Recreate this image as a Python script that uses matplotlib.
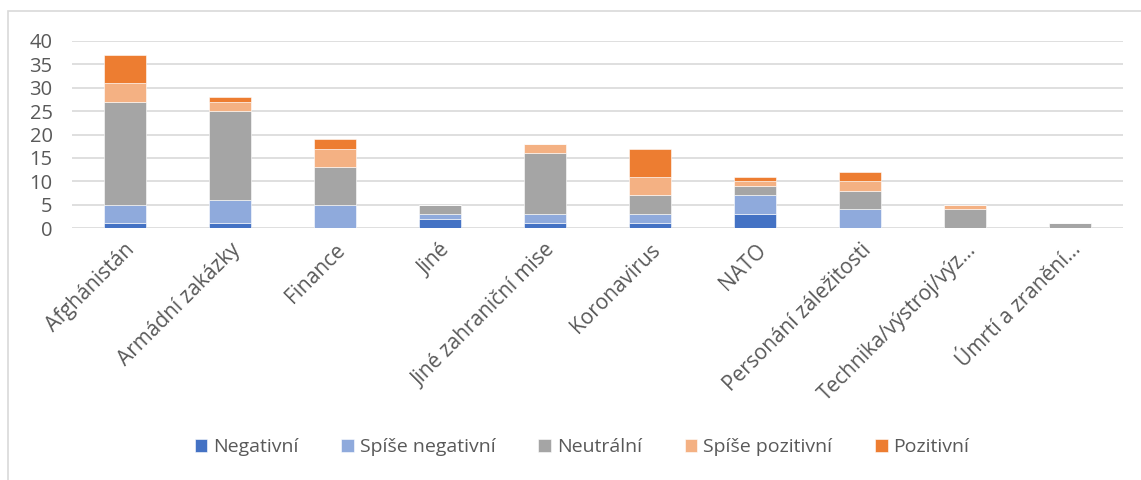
import matplotlib.pyplot as plt
from matplotlib.patches import Rectangle

categories = ["Afghánistán", "Armádní zakázky", "Finance", "Jiné", "Jiné zahraniční mise",
              "Koronavirus", "NATO", "Personání záležitosti", "Technika/výstroj/výz…",
              "Úmrtí a zranění…"]
negativni = [1, 1, 0, 2, 1, 1, 3, 0, 0, 0]
spise_negativni = [4, 5, 5, 1, 2, 2, 4, 4, 0, 0]
neutralni = [22, 19, 8, 2, 13, 4, 2, 4, 4, 1]
spise_pozitivni = [4, 2, 4, 0, 2, 4, 1, 2, 1, 0]
pozitivni = [6, 1, 2, 0, 0, 6, 1, 2, 0, 0]

series = [("Negativní", negativni, "#4472C4"),
          ("Spíše negativní", spise_negativni, "#8FAADC"),
          ("Neutrální", neutralni, "#A5A5A5"),
          ("Spíše pozitivní", spise_pozitivni, "#F4B183"),
          ("Pozitivní", pozitivni, "#ED7D31")]

plt.rcParams['font.family'] = ['Open Sans', 'DejaVu Sans']
txt = "#595959"

fig = plt.figure(figsize=(11.41, 4.8), dpi=100)
ax = fig.add_axes([72/1141, 1-228/480, (1123-72)/1141, (228-41)/480])

x = list(range(len(categories)))
bottom = [0]*len(categories)
for name, vals, col in series:
    ax.bar(x, vals, 0.4, bottom=bottom, color=col, label=name,
           edgecolor='white', linewidth=0.4, zorder=3)
    bottom = [b + v for b, v in zip(bottom, vals)]

ax.set_xlim(-0.5, len(categories)-0.5)
ax.set_ylim(0, 40)
ax.set_yticks(range(0, 41, 5))
ax.yaxis.grid(True, color='#D9D9D9', linewidth=1.2, zorder=0)
for s in ax.spines.values():
    s.set_visible(False)
ax.tick_params(axis='both', length=0, labelsize=14.5, colors=txt)
ax.tick_params(axis='y', pad=14)
ax.tick_params(axis='x', labelsize=15)
ax.set_xticks(x)
ax.set_xticklabels(categories, rotation=45, ha='right', rotation_mode='anchor')
for lab in ax.get_xticklabels():
    lab.set_y(-0.035)

ax.legend(loc='center', bbox_to_anchor=(582/1141, 1-447/480), bbox_transform=fig.transFigure,
          ncol=5, frameon=False, fontsize=14, handlelength=0.65, handleheight=0.65,
          handletextpad=0.3, columnspacing=2.2, labelcolor=txt)

fig.patches.append(Rectangle((8/1141, -0.1), 1.2, 1-11/480+0.1, transform=fig.transFigure,
                             fill=False, edgecolor='#D9D9D9', linewidth=1.2))

fig.savefig("out.png")
